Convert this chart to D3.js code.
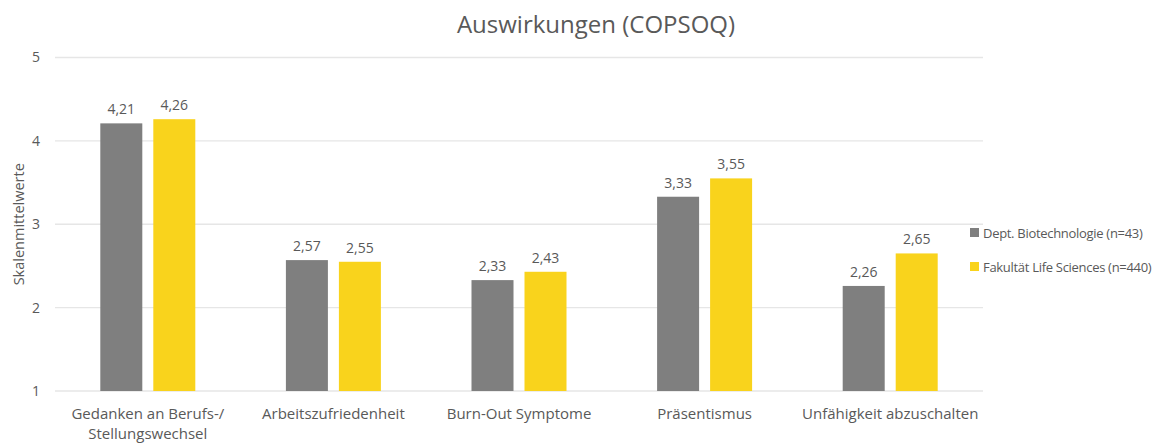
<!DOCTYPE html>
<html>
<head>
<meta charset="utf-8">
<script src="https://cdn.jsdelivr.net/npm/d3@7"></script>
<style>
  body { margin: 0; background: #fff; }
  text { font-family: "Open Sans", sans-serif; fill: #595959; }
</style>
</head>
<body>
<div id="chart"></div>
<script>
// chart data
var categories = ["Gedanken an Berufs-/\nStellungswechsel", "Arbeitszufriedenheit", "Burn-Out Symptome", "Präsentismus", "Unfähigkeit abzuschalten"];
var seriesNames = ["Dept. Biotechnologie (n=43)", "Fakultät Life Sciences (n=440)"];
var biotech = [4.21, 2.57, 2.33, 3.33, 2.26];
var lifeSciences = [4.26, 2.55, 2.43, 3.55, 2.65];
var yTicks = [1, 2, 3, 4, 5];
var colors = ["#7f7f7f", "#f9d31c"];

var width = 1157, height = 445;
// plot area (don't call these top/left - window.top is read-only)
var plotL = 55, plotR = 983, plotT = 57.5, plotB = 391;

var svg = d3.select("#chart").append("svg")
    .attr("width", width)
    .attr("height", height);

var x = d3.scaleBand()
    .domain(categories)
    .range([plotL, plotR]);

var y = d3.scaleLinear()
    .domain([1, 5])
    .range([plotB, plotT]);

// gridlines
svg.selectAll(".grid")
    .data(yTicks)
    .enter()
    .append("line")
    .attr("x1", plotL)
    .attr("x2", plotR)
    .attr("y1", d => y(d))
    .attr("y2", d => y(d))
    .attr("stroke", "#e6e6e6")
    .attr("stroke-width", 1.3);

// y tick labels
svg.selectAll(".ytick")
    .data(yTicks)
    .enter()
    .append("text")
    .attr("x", 36)
    .attr("y", d => y(d))
    .attr("dy", "0.35em")
    .attr("text-anchor", "middle")
    .attr("font-size", "14px")
    .text(d => d);

var barW = 42, gap = 11;
var series = [biotech, lifeSciences];

series.forEach(function(vals, s) {
    var off = s == 0 ? -(gap / 2 + barW) : gap / 2;
    var g = svg.append("g");
    g.selectAll("rect")
        .data(vals)
        .enter()
        .append("rect")
        .attr("x", (d, i) => x(categories[i]) + x.bandwidth() / 2 + off)
        .attr("y", d => y(d))
        .attr("width", barW)
        .attr("height", d => y(1) - y(d))
        .attr("fill", colors[s]);
    g.selectAll("text")
        .data(vals)
        .enter()
        .append("text")
        .attr("x", (d, i) => x(categories[i]) + x.bandwidth() / 2 + off + barW / 2)
        .attr("y", d => y(d) - 9)
        .attr("text-anchor", "middle")
        .attr("font-size", "14px")
        .text(d => d.toFixed(2).replace(".", ","));
});

// category labels
svg.selectAll(".xlab")
    .data(categories)
    .enter()
    .append("text")
    .attr("text-anchor", "middle")
    .attr("font-size", "15px")
    .attr("transform", d => "translate(" + (x(d) + x.bandwidth() / 2) + "," + (plotB + 28) + ")")
    .each(function(d) {
        var lines = d.split("\n");
        var t = d3.select(this);
        lines.forEach(function(l, i) {
            t.append("tspan").attr("x", 0).attr("dy", i == 0 ? 0 : 20).text(l);
        });
    });

// title
svg.append("text")
    .attr("x", 596)
    .attr("y", 33)
    .attr("text-anchor", "middle")
    .attr("font-size", "24px")
    .text("Auswirkungen (COPSOQ)");

// y axis title
svg.append("text")
    .attr("transform", "translate(24," + y(3) + ") rotate(-90)")
    .attr("text-anchor", "middle")
    .attr("font-size", "14.5px")
    .text("Skalenmittelwerte");

// legend
var legend = svg.selectAll(".legend")
    .data(seriesNames)
    .enter()
    .append("g")
    .attr("transform", (d, i) => "translate(970," + (233 + i * 34) + ")");
legend.append("rect")
    .attr("x", 0)
    .attr("y", -5)
    .attr("width", 9)
    .attr("height", 9)
    .attr("fill", (d, i) => colors[i]);
legend.append("text")
    .attr("x", 13)
    .attr("dy", "0.35em")
    .attr("font-size", "13px")
    .attr("letter-spacing", "-0.3px")
    .text(d => d);
</script>
</body>
</html>
